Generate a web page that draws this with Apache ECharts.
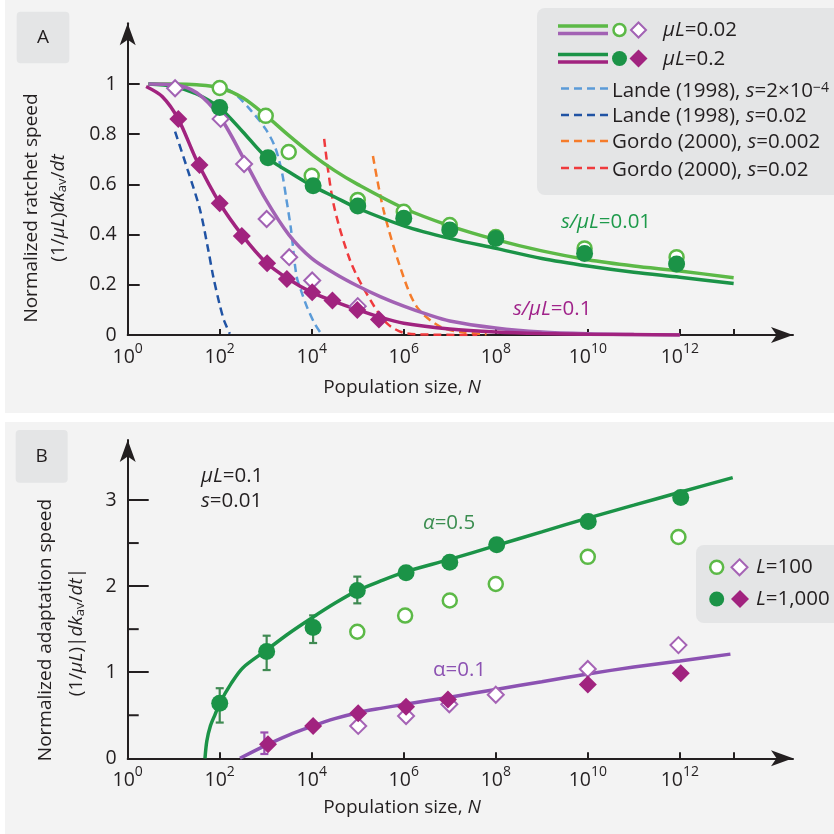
<!DOCTYPE html>
<html><head><meta charset="utf-8">
<script src="https://cdn.jsdelivr.net/npm/echarts@6/dist/echarts.min.js"></script>
<style>html,body{margin:0;padding:0;background:#fff}#c{width:834px;height:834px}</style>
</head><body><div id="c"></div>
<script>
// ===== DATA (x = log10 N) =====
const xTickVals = [0, 2, 4, 6, 8, 10, 12, 13.17];
const xLabelVals = [0, 2, 4, 6, 8, 10, 12];
const yTicksA = [0, 0.2, 0.4, 0.6, 0.8, 1];
const yTicksB = [0, 1, 2, 3];
const yMinorB = [0.5, 1.5, 2.5];

// Panel A: theory curves
const lineA_mu002_s001 = [[0.45,1],[1,1],[1.5,0.997],[2,0.985],[2.5,0.945],[3,0.875],[3.5,0.795],[4,0.72],[4.5,0.655],[5,0.6],[6,0.505],[7,0.435],[8,0.38],[9,0.335],[10,0.3],[11,0.275],[12,0.255],[13.17,0.228]];
const lineA_mu02_s001 = [[0.45,1],[1,0.99],[1.5,0.96],[2,0.905],[2.5,0.81],[3,0.71],[3.5,0.65],[4,0.595],[4.5,0.55],[5,0.505],[6,0.435],[7,0.385],[8,0.345],[9,0.305],[10,0.275],[11,0.25],[12,0.23],[13.17,0.205]];
const lineA_mu002_s01 = [[0.45,1],[1,0.997],[1.5,0.965],[2,0.87],[2.5,0.71],[3,0.54],[3.5,0.4],[4,0.305],[4.5,0.245],[5,0.195],[5.5,0.152],[6,0.115],[6.5,0.083],[7,0.056],[8,0.028],[9,0.012],[10,0.005],[11,0.002],[12,0]];
const lineA_mu02_s01 = [[0.4,0.99],[0.75,0.95],[1.1,0.86],[1.5,0.695],[2,0.525],[2.5,0.395],[3,0.29],[3.5,0.222],[4,0.17],[4.5,0.133],[5,0.1],[5.5,0.07],[6,0.047],[7,0.024],[8,0.012],[9,0.006],[10,0.003],[12,0]];
// Panel A: simulation points
const ptsA_mu002_circ = [[2,0.984],[3,0.873],[3.5,0.729],[4,0.634],[5,0.538],[6,0.491],[7,0.438],[8,0.39],[9.93,0.345],[11.93,0.31]];
const ptsA_mu02_circ = [[2,0.906],[3.05,0.706],[4.03,0.595],[5,0.514],[6,0.465],[7,0.418],[8,0.384],[9.93,0.325],[11.93,0.283]];
const ptsA_mu002_diam = [[1.03,0.983],[2.02,0.861],[2.53,0.681],[3.02,0.462],[3.51,0.31],[4.01,0.217],[5.0,0.115]];
const ptsA_mu02_diam = [[1.1,0.861],[1.56,0.677],[2,0.525],[2.48,0.394],[3.03,0.286],[3.46,0.223],[4.01,0.17],[4.45,0.137],[4.99,0.1],[5.46,0.062]];
// Panel A: literature approximations
const landeS2e4 = [[1.9,1.0],[2.3,0.965],[2.7,0.89],[3.0,0.82],[3.2,0.75],[3.35,0.65],[3.45,0.54],[3.55,0.42],[3.67,0.235],[3.8,0.16],[3.9,0.11],[4.05,0.05],[4.18,0.012]];
const landeS002 = [[1.03,0.81],[1.3,0.66],[1.57,0.5],[1.75,0.34],[1.86,0.232],[2.0,0.12],[2.1,0.055],[2.22,0.005]];
const gordoS0002 = [[5.33,0.713],[5.56,0.498],[5.92,0.272],[6.28,0.113],[6.79,0.033],[7.3,0.01],[7.8,0.003]];
const gordoS002 = [[4.27,0.781],[4.47,0.525],[4.83,0.299],[5.19,0.166],[5.63,0.047],[6.07,0.006],[6.8,0.001],[7.6,0]];

// Panel B
const lineB_alpha05 = [[1.68,0],[1.72,0.2],[1.8,0.38],[1.9,0.51],[2,0.64],[2.25,0.87],[2.5,1.05],[3,1.25],[3.5,1.45],[4,1.63],[4.5,1.8],[5,1.95],[5.5,2.06],[6,2.16],[7,2.31],[8,2.47],[9,2.63],[10,2.79],[11,2.94],[12,3.09],[13.15,3.26]];
const lineB_alpha01 = [[2.44,0],[3,0.15],[3.5,0.27],[4,0.37],[4.5,0.46],[5,0.53],[5.5,0.58],[6,0.625],[7,0.71],[8,0.8],[9,0.89],[10,0.98],[11,1.06],[12,1.13],[13.1,1.21]];
const ptsB_L1000_circ = [[2,0.639],[3.02,1.24],[4.03,1.52],[4.99,1.95],[6.05,2.155],[7,2.276],[8.02,2.48],[10.01,2.75],[12.02,3.03]];
const ptsB_L100_circ = [[4.99,1.47],[6.03,1.658],[7,1.833],[8,2.024],[10,2.34],[11.97,2.57]];
const ptsB_L1000_diam = [[3.05,0.162],[4.03,0.375],[5.01,0.523],[6.05,0.6],[6.96,0.684],[10,0.858],[12.02,0.987]];
const ptsB_L100_diam = [[5.01,0.376],[6.05,0.491],[6.99,0.627],[8,0.738],[10,1.037],[11.97,1.315]];
const errB_L1000_circ = [[2,0.415,0.814],[3.02,1.025,1.424],[4.03,1.339,1.66],[4.99,1.80,2.11]];
const errB_L1000_diam = [[2.97,0.05,0.30]];

// ===== STYLE =====
const FONT = 'Open Sans';
const TXT = '#231f20';
const C = {lightGreen:'#5cb947', darkGreen:'#1b9347', lightPurple:'#a262b4', magenta:'#a1237f',
  purpleB:'#8c52b2', openPurple:'#a563b5', lightBlue:'#5b9bd8', darkBlue:'#2053a4',
  orange:'#f57c2b', red:'#ef3a3d', errGreen:'#3f8a52', errPurple:'#9a4fb0', box:'#e4e5e6', panel:'#f3f3f3'};

const X_MAX = 14.46;
const YA_MAX = 1.2418;
const YB_MAX = 3.697;
const FS = 20.5;   // legend / annotation size
const FT = 19.5;   // tick label size

function rich(size, fill) {
  const sm = Math.round(size * 0.7);
  return {
    n: {fontSize: size, fontFamily: FONT, fill, color: fill},
    i: {fontSize: size, fontFamily: FONT, fontStyle: 'italic', fill, color: fill},
    sup: {fontSize: sm, fontFamily: FONT, fill, color: fill, verticalAlign: 'top', lineHeight: sm},
    sub: {fontSize: sm, fontFamily: FONT, fill, color: fill, verticalAlign: 'bottom', lineHeight: sm}
  };
}
function txt(x, y, text, o = {}) {
  const size = o.size || FS, fill = o.fill || TXT;
  return {type: 'text', x, y, rotation: o.rot || 0, z: 50, silent: true,
    style: {text, fill, fontSize: size, fontFamily: FONT, rich: rich(size, fill),
      align: o.align || 'left', textAlign: o.align || 'left',
      verticalAlign: 'middle', textVerticalAlign: 'middle'}};
}
function rect(x, y, w, h, fill, r, z) {
  return {type: 'rect', z: z == null ? 40 : z, silent: true, shape: {x, y, width: w, height: h, r: r || 0}, style: {fill}};
}
function seg(x1, y1, x2, y2, stroke, w, dash) {
  return {type: 'line', z: 45, silent: true, shape: {x1, y1, x2, y2}, style: {stroke, lineWidth: w, lineDash: dash || null}};
}
function circ(cx, cy, r, fill, stroke, w) {
  return {type: 'circle', z: 46, silent: true, shape: {cx, cy, r}, style: {fill, stroke: stroke || null, lineWidth: w || 0}};
}
function diam(cx, cy, h, fill, stroke, w) {
  return {type: 'polygon', z: 46, silent: true, shape: {points: [[cx, cy - h], [cx + h, cy], [cx, cy + h], [cx - h, cy]]}, style: {fill, stroke: stroke || null, lineWidth: w || 0}};
}

// axes
function xAx(gi) {
  return {type: 'value', gridIndex: gi, min: 0, max: X_MAX,
    axisLine: {show: true, onZero: false, symbol: ['none', 'arrow'], symbolSize: [12, 22], lineStyle: {color: TXT, width: 2}},
    axisTick: {show: true, inside: true, length: 6, customValues: xTickVals, lineStyle: {color: TXT, width: 2}},
    axisLabel: {show: true, customValues: xLabelVals, margin: 7, formatter: v => '{b|10}{s|' + v + '}',
      rich: {b: {fontSize: FT, fontFamily: FONT, color: TXT, lineHeight: 30},
             s: {fontSize: 14, fontFamily: FONT, color: TXT, verticalAlign: 'top', lineHeight: 14}}},
    splitLine: {show: false}};
}
function yAx(gi, max, ticks, len, fmt, showLine) {
  return {type: 'value', gridIndex: gi, min: 0, max, position: 'left', offset: 0,
    axisLine: {show: showLine, onZero: false, symbol: ['none', 'arrow'], symbolSize: [12, 22], lineStyle: {color: TXT, width: 2}},
    axisTick: {show: true, inside: true, length: len, customValues: ticks, lineStyle: {color: TXT, width: 2}},
    axisLabel: {show: !!fmt, customValues: ticks, margin: 11, formatter: fmt || (() => ''), fontSize: FT, fontFamily: FONT, color: TXT},
    splitLine: {show: false}};
}

function lineS(data, color, xi, yi, dash, width, z) {
  return {type: 'line', data, xAxisIndex: xi, yAxisIndex: yi, showSymbol: false, symbol: 'none',
    smooth: 0.3, z: z || 2, silent: true,
    lineStyle: {color, width: width || 3.5, type: dash ? [8, 5] : 'solid', cap: 'butt'}};
}
function scat(data, symbol, size, fill, stroke, bw, xi, yi, z) {
  return {type: 'scatter', data, symbol, symbolSize: size, xAxisIndex: xi, yAxisIndex: yi, z: z || 3, silent: true,
    itemStyle: {color: fill, borderColor: stroke || fill, borderWidth: bw || 0, opacity: 1}};
}
function errS(data, color, xi, yi) {
  return {type: 'custom', data, xAxisIndex: xi, yAxisIndex: yi, z: 2, silent: true,
    encode: {x: 0, y: [1, 2]},
    renderItem(params, api) {
      const x = api.value(0), lo = api.value(1), hi = api.value(2);
      const p1 = api.coord([x, lo]), p2 = api.coord([x, hi]);
      const w = 4, st = {stroke: color, lineWidth: 2.2};
      return {type: 'group', children: [
        {type: 'line', shape: {x1: p1[0], y1: p1[1], x2: p2[0], y2: p2[1]}, style: st},
        {type: 'line', shape: {x1: p1[0] - w, y1: p1[1], x2: p1[0] + w, y2: p1[1]}, style: st},
        {type: 'line', shape: {x1: p2[0] - w, y1: p2[1], x2: p2[0] + w, y2: p2[1]}, style: st}
      ]};
    }};
}
// minor y ticks (panel B): drawn like the error bars, through the axis scale
function minorTickS(vals, xi, yi, len) {
  return {type: 'custom', data: vals.map(v => [0, v, v]), xAxisIndex: xi, yAxisIndex: yi, z: 6, silent: true,
    clip: false, encode: {x: 0, y: [1, 2]},
    renderItem(params, api) {
      const p = api.coord([api.value(0), api.value(1)]);
      return {type: 'group', children: [
        {type: 'line', shape: {x1: p[0], y1: p[1], x2: p[0] + len, y2: p[1]}, style: {stroke: TXT, lineWidth: 2}}
      ]};
    }};
}

const fmtA = v => v === 0 ? '0' : (v === 1 ? '1' : v.toFixed(1));
const fmtB = v => String(v);

const chart = echarts.init(document.getElementById('c'), null, {renderer: 'canvas'});
const graphic = [
  rect(5, 0, 829, 413, C.panel, 0, -10),
  rect(5, 422, 829, 412, C.panel, 0, -10),
  // panel tags
  rect(16.7, 11.7, 52.6, 51.6, C.box, 4),
  txt(43, 37.5, '{n|A}', {align: 'center', size: 19}),
  rect(15.7, 430, 52, 52.7, C.box, 4),
  txt(41.7, 456.5, '{n|B}', {align: 'center', size: 19}),
  // y-axis titles
  txt(32, 208, '{n|Normalized ratchet speed}', {rot: Math.PI / 2, align: 'center', size: 19}),
  txt(59, 208, '{n|(1/}{i|μL}{n|)}{i|dk}{sub|av}{n|/}{i|dt}', {rot: Math.PI / 2, align: 'center', size: 19}),
  txt(46, 630, '{n|Normalized adaptation speed}', {rot: Math.PI / 2, align: 'center', size: 19}),
  txt(77, 632, '{n|(1/}{i|μL}{n|)|}{i|dk}{sub|av}{n|/}{i|dt}{n||}', {rot: Math.PI / 2, align: 'center', size: 19}),
  // x-axis titles
  txt(402, 388, '{n|Population size, }{i|N}', {align: 'center', size: 19}),
  txt(402, 808, '{n|Population size, }{i|N}', {align: 'center', size: 19}),
  // annotations
  txt(561, 222, '{i|s/μL}{n|=0.01}', {fill: '#1e9a4b'}),
  txt(513, 309, '{i|s/μL}{n|=0.1}', {fill: '#a0238a'}),
  txt(201, 476, '{i|μL}{n|=0.1}'),
  txt(201, 501, '{i|s}{n|=0.01}'),
  txt(423, 523, '{i|α}{n|=0.5}', {fill: '#3b8d50'}),
  txt(433, 670, '{n|α=0.1}', {fill: C.purpleB}),
  // legend A
  rect(537, 8, 310, 187, C.box, 8),
  seg(558, 26, 608, 26, C.lightGreen, 3.5),
  seg(558, 33.5, 608, 33.5, C.lightPurple, 3.5),
  circ(619.5, 30, 6, '#fff', C.lightGreen, 2.5),
  diam(638.5, 30, 7.5, '#fff', C.lightPurple, 2),
  txt(663, 30, '{i|μL}{n|=0.02}'),
  seg(558, 54.5, 608, 54.5, C.darkGreen, 3.5),
  seg(558, 62, 608, 62, C.magenta, 3.5),
  circ(619.5, 58.5, 7.5, C.darkGreen),
  diam(638.5, 58.5, 9, C.magenta),
  txt(663, 59, '{i|μL}{n|=0.2}'),
  seg(561, 88.5, 608, 88.5, C.lightBlue, 2.5, [8, 5]),
  txt(612, 91.5, '{n|Lande (1998), }{i|s}{n|=2×10}{sup|−4}'),
  seg(561, 115, 608, 115, C.darkBlue, 2.5, [8, 5]),
  txt(612, 116.5, '{n|Lande (1998), }{i|s}{n|=0.02}'),
  seg(561, 141, 608, 141, C.orange, 2.5, [8, 5]),
  txt(612, 142, '{n|Gordo (2000), }{i|s}{n|=0.002}'),
  seg(561, 168, 608, 168, C.red, 2.5, [8, 5]),
  txt(612, 170, '{n|Gordo (2000), }{i|s}{n|=0.02}'),
  // legend B
  rect(696, 545, 150, 78, C.box, 8),
  circ(716.7, 567.3, 6.5, '#fff', C.lightGreen, 2.5),
  diam(739.5, 567.3, 8, '#fff', C.openPurple, 2),
  txt(756, 567.5, '{i|L}{n|=100}'),
  circ(716.7, 599, 7.5, C.darkGreen),
  diam(740, 599, 9, C.magenta),
  txt(756, 599.5, '{i|L}{n|=1,000}')
];

chart.setOption({
  animation: false,
  backgroundColor: '#ffffff',
  grid: [
    {left: 127.7, top: 23.3, width: 665.3, height: 311.7, containLabel: false},
    {left: 127.7, top: 440, width: 665.3, height: 318.3, containLabel: false}
  ],
  xAxis: [xAx(0), xAx(1)],
  yAxis: [
    yAx(0, YA_MAX, yTicksA, 12, fmtA, true),
    yAx(1, YB_MAX, yTicksB, 21, fmtB, true)
  ],
  graphic: {elements: graphic},
  series: [
    // Panel A dashed approximations
    lineS(landeS2e4, C.lightBlue, 0, 0, true, 2.5, 1),
    lineS(landeS002, C.darkBlue, 0, 0, true, 2.5, 1),
    lineS(gordoS0002, C.orange, 0, 0, true, 2.5, 1),
    lineS(gordoS002, C.red, 0, 0, true, 2.5, 1),
    // Panel A theory
    lineS(lineA_mu002_s001, C.lightGreen, 0, 0),
    lineS(lineA_mu02_s001, C.darkGreen, 0, 0),
    lineS(lineA_mu002_s01, C.lightPurple, 0, 0),
    lineS(lineA_mu02_s01, C.magenta, 0, 0),
    // Panel A points
    scat(ptsA_mu002_circ, 'circle', 14, '#ffffff', C.lightGreen, 2.5, 0, 0, 3),
    scat(ptsA_mu002_diam, 'diamond', 16, '#ffffff', C.lightPurple, 2, 0, 0, 3),
    scat(ptsA_mu02_circ, 'circle', 17, C.darkGreen, null, 0, 0, 0, 4),
    scat(ptsA_mu02_diam, 'diamond', 18, C.magenta, null, 0, 0, 0, 4),
    // Panel B
    lineS(lineB_alpha05, C.darkGreen, 1, 1),
    lineS(lineB_alpha01, C.purpleB, 1, 1),
    errS(errB_L1000_circ, C.errGreen, 1, 1),
    errS(errB_L1000_diam, C.errPurple, 1, 1),
    minorTickS(yMinorB, 1, 1, 11),
    scat(ptsB_L100_circ, 'circle', 14, '#ffffff', C.lightGreen, 2.5, 1, 1, 3),
    scat(ptsB_L100_diam, 'diamond', 16, '#ffffff', C.openPurple, 2, 1, 1, 3),
    scat(ptsB_L1000_circ, 'circle', 17, C.darkGreen, null, 0, 1, 1, 4),
    scat(ptsB_L1000_diam, 'diamond', 18, C.magenta, null, 0, 1, 1, 4)
  ]
});
</script>
</body></html>
